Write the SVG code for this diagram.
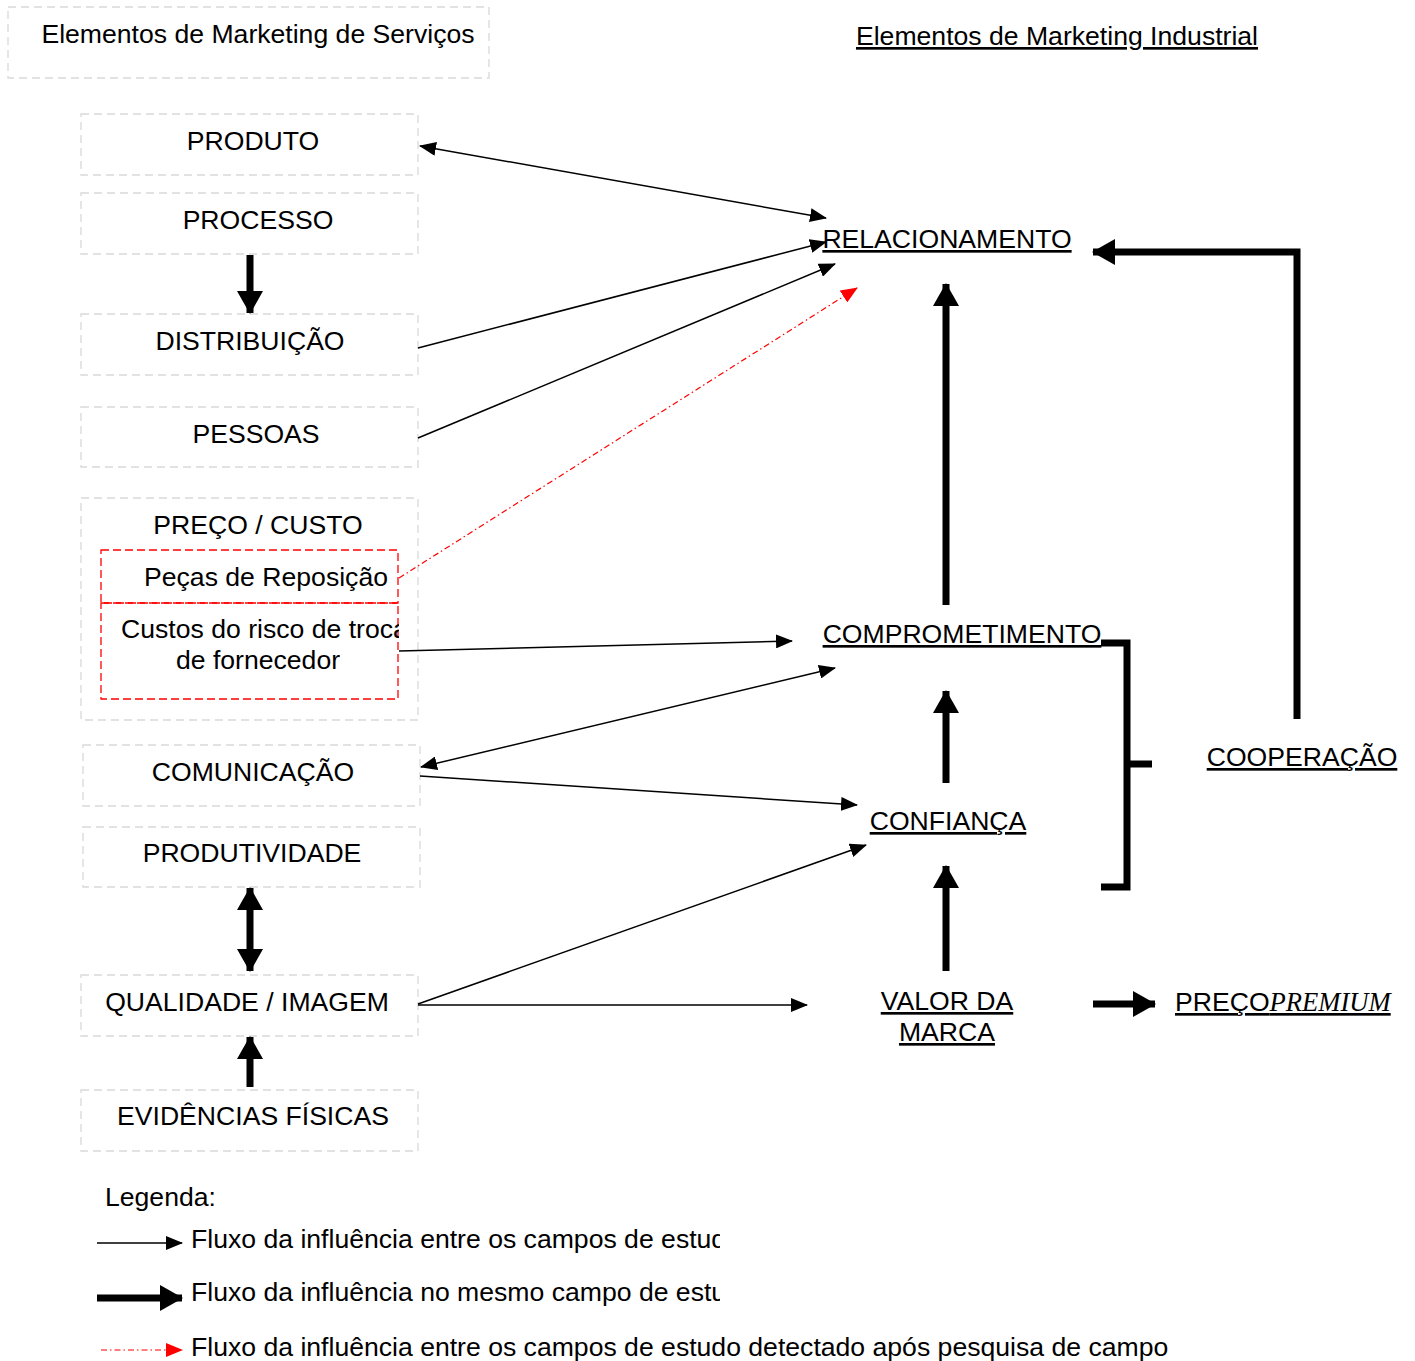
<svg xmlns="http://www.w3.org/2000/svg" width="1415" height="1361" viewBox="0 0 1415 1361">
<style>
text{font-family:"Liberation Sans",Arial,sans-serif;font-size:26.6px;fill:#000}
.box{fill:none;stroke:#d9d9d9;stroke-width:1.3;stroke-dasharray:8 5}
.red{fill:none;stroke:#ff0000;stroke-width:1.3;stroke-dasharray:8 4}
.thin{fill:none;stroke:#000;stroke-width:1.5}
.thick{fill:none;stroke:#000;stroke-width:7}
.rdash{fill:none;stroke:#ff0000;stroke-width:1.2;stroke-dasharray:6 3 1.5 3}
.u{text-decoration:underline}
.c{text-anchor:middle}
</style>
<defs>
<marker id="ah" markerUnits="userSpaceOnUse" markerWidth="18" markerHeight="14" refX="16" refY="7" orient="auto-start-reverse" viewBox="0 0 18 14"><path d="M0,0 L17,7 L0,14 z" fill="#000"/></marker>
<marker id="ahr" markerUnits="userSpaceOnUse" markerWidth="18" markerHeight="14" refX="16" refY="7" orient="auto" viewBox="0 0 18 14"><path d="M0,0 L17,7 L0,14 z" fill="#ff0000"/></marker>
<marker id="th" markerUnits="userSpaceOnUse" markerWidth="24" markerHeight="26" refX="22" refY="13" orient="auto-start-reverse" viewBox="0 0 24 26"><path d="M0,0 L23,13 L0,26 z" fill="#000"/></marker>
<clipPath id="redclip"><rect x="101" y="550" width="298" height="150"/></clipPath>
<clipPath id="legclip"><rect x="0" y="1220" width="720" height="100"/></clipPath>
</defs>

<g id="title-servicos"><rect class="box" x="8" y="7" width="481" height="71"/><text x="258" y="43" class="c">Elementos de Marketing de Serviços</text></g>
<g id="title-industrial"><text x="1057" y="45" class="c u">Elementos de Marketing Industrial</text></g>

<g id="produto"><rect class="box" x="81" y="114" width="337" height="61"/><text x="253" y="150" class="c">PRODUTO</text></g>
<g id="processo"><rect class="box" x="81" y="193" width="337" height="61"/><text x="258" y="229" class="c">PROCESSO</text></g>
<g id="distribuicao"><rect class="box" x="81" y="314" width="337" height="61"/><text x="250" y="350" class="c">DISTRIBUIÇÃO</text></g>
<g id="pessoas"><rect class="box" x="81" y="407" width="337" height="60"/><text x="256" y="443" class="c">PESSOAS</text></g>
<g id="preco-custo"><rect class="box" x="81" y="498" width="337" height="222"/><text x="258" y="534" class="c">PREÇO / CUSTO</text></g>
<g id="pecas"><rect class="red" x="101" y="550" width="297" height="53"/><text x="266" y="586" class="c">Peças de Reposição</text></g>
<g id="custos"><rect class="red" x="101" y="603" width="297" height="96"/><g clip-path="url(#redclip)"><text x="121" y="638">Custos do risco de troca</text></g><text x="258" y="669" class="c">de fornecedor</text></g>
<g id="comunicacao"><rect class="box" x="83" y="745" width="337" height="61"/><text x="253" y="781" class="c">COMUNICAÇÃO</text></g>
<g id="produtividade"><rect class="box" x="83" y="827" width="337" height="60"/><text x="252" y="862" class="c">PRODUTIVIDADE</text></g>
<g id="qualidade"><rect class="box" x="81" y="975" width="337" height="61"/><text x="247" y="1011" class="c">QUALIDADE / IMAGEM</text></g>
<g id="evidencias"><rect class="box" x="81" y="1090" width="337" height="61"/><text x="253" y="1125" class="c">EVIDÊNCIAS FÍSICAS</text></g>

<g id="relacionamento"><text x="947" y="248" class="c u">RELACIONAMENTO</text></g>
<g id="comprometimento"><text x="962" y="643" class="c u">COMPROMETIMENTO</text></g>
<g id="confianca"><text x="948" y="830" class="c u">CONFIANÇA</text></g>
<g id="cooperacao"><text x="1302" y="766" class="c u">COOPERAÇÃO</text></g>
<g id="valor-marca"><text x="947" y="1010" class="c u">VALOR DA</text><text x="947" y="1041" class="c u">MARCA</text></g>
<g id="preco-premium"><text x="1175" y="1011" class="u">PREÇO<tspan style="font-family:'Liberation Serif','Times New Roman',serif;font-style:italic">PREMIUM</tspan></text></g>

<g id="connectors">
<line class="thin" x1="420" y1="146" x2="826" y2="218" marker-start="url(#ah)" marker-end="url(#ah)"/>
<line class="thin" x1="418" y1="348" x2="826" y2="242" marker-end="url(#ah)"/>
<line class="thin" x1="418" y1="438" x2="835" y2="264" marker-end="url(#ah)"/>
<line class="rdash" x1="399" y1="578" x2="857" y2="288" marker-end="url(#ahr)"/>
<line class="thin" x1="399" y1="651" x2="792" y2="641" marker-end="url(#ah)"/>
<line class="thin" x1="421" y1="767" x2="835" y2="668" marker-start="url(#ah)" marker-end="url(#ah)"/>
<line class="thin" x1="420" y1="776" x2="857" y2="805" marker-end="url(#ah)"/>
<line class="thin" x1="418" y1="1004" x2="866" y2="845" marker-end="url(#ah)"/>
<line class="thin" x1="418" y1="1005" x2="807" y2="1005" marker-end="url(#ah)"/>

<line class="thick" x1="250" y1="255" x2="250" y2="313" marker-end="url(#th)"/>
<line class="thick" x1="250" y1="888" x2="250" y2="971" marker-start="url(#th)" marker-end="url(#th)"/>
<line class="thick" x1="250" y1="1087" x2="250" y2="1037" marker-end="url(#th)"/>
<line class="thick" x1="946" y1="605" x2="946" y2="284" marker-end="url(#th)"/>
<line class="thick" x1="946" y1="783" x2="946" y2="691" marker-end="url(#th)"/>
<line class="thick" x1="946" y1="971" x2="946" y2="866" marker-end="url(#th)"/>
<polyline class="thick" points="1297,719 1297,252 1093,252" marker-end="url(#th)"/>
<line class="thick" x1="1093" y1="1004" x2="1155" y2="1004" marker-end="url(#th)"/>
<polyline class="thick" points="1101,643 1127,643 1127,887 1101,887"/>
<line class="thick" x1="1127" y1="764" x2="1152" y2="764"/>
</g>

<g id="legenda">
<text x="105" y="1206">Legenda:</text>
<line class="thin" x1="97" y1="1243" x2="182" y2="1243" marker-end="url(#ah)"/>
<g clip-path="url(#legclip)"><text x="191" y="1248">Fluxo da influência entre os campos de estud</text></g>
<line class="thick" x1="97" y1="1298" x2="182" y2="1298" marker-end="url(#th)"/>
<g clip-path="url(#legclip)"><text x="191" y="1301">Fluxo da influência no mesmo campo de estu</text></g>
<line class="rdash" x1="101" y1="1350" x2="182" y2="1350" marker-end="url(#ahr)"/>
<text x="191" y="1356">Fluxo da influência entre os campos de estudo detectado após pesquisa de campo</text>
</g>
</svg>
